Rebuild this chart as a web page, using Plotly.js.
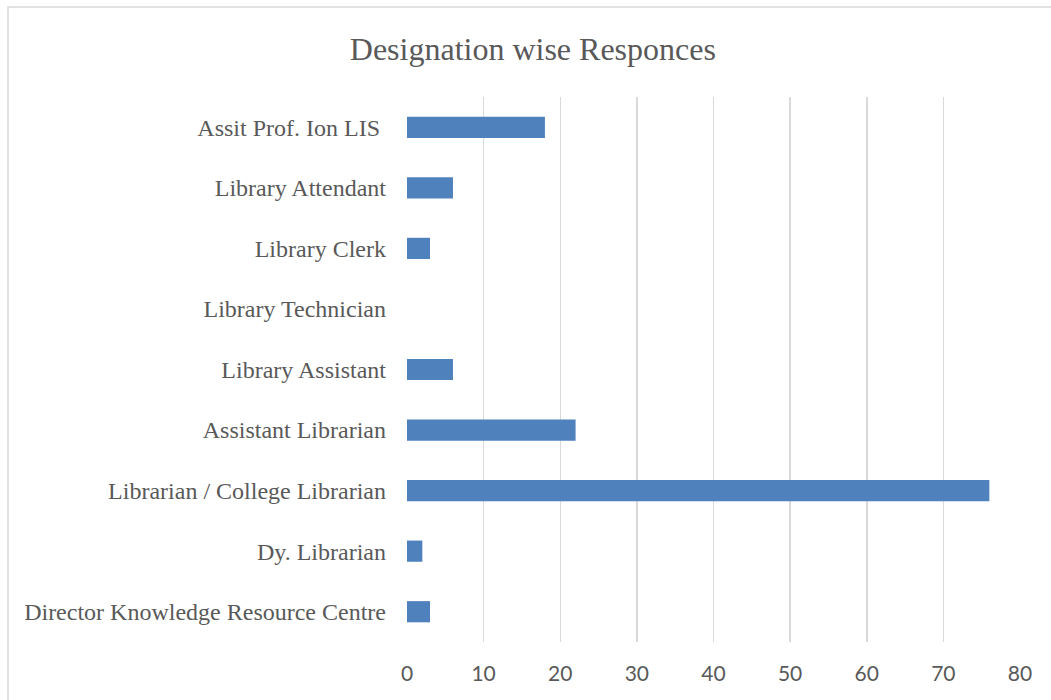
<!DOCTYPE html>
<html>
<head>
<meta charset="utf-8">
<script src="https://cdn.plot.ly/plotly-3.0.1.min.js"></script>
<style>
  html, body { margin: 0; padding: 0; background: #fff; }
  #chart { width: 1051px; height: 700px; }
</style>
</head>
<body>
<div id="chart"></div>
<script>
// Designations, listed bottom to top as drawn on the category axis
const designations = [
  "Director Knowledge Resource Centre",
  "Dy. Librarian",
  "Librarian / College Librarian",
  "Assistant Librarian",
  "Library Assistant",
  "Library Technician",
  "Library Clerk",
  "Library Attendant",
  "Assit Prof. Ion LIS "
];
// Number of responses per designation
const responses = [3, 2, 76, 22, 6, 0, 3, 6, 18];
const xTicks = [0, 10, 20, 30, 40, 50, 60, 70, 80];

const trace = {
  type: "bar",
  orientation: "h",
  y: designations,
  x: responses,
  marker: { color: "#4f81bd", line: { width: 0 } },
  hoverinfo: "x+y"
};

const layout = {
  width: 1051,
  height: 700,
  margin: { l: 407, r: 31, t: 97, b: 58, pad: 0 },
  paper_bgcolor: "#ffffff",
  plot_bgcolor: "#ffffff",
  showlegend: false,
  bargap: 0.65,
  title: {
    text: "Designation wise Responces",
    font: { family: "Liberation Serif, Times New Roman, serif", size: 32, color: "#595959" },
    x: 0.507, xref: "container", xanchor: "center",
    y: 0.93, yref: "container", yanchor: "middle"
  },
  xaxis: {
    range: [0, 80],
    tickvals: xTicks,
    ticktext: xTicks.map(String),
    showgrid: true,
    gridcolor: "#d9d9d9",
    gridwidth: 1.5,
    zeroline: false,
    showline: false,
    ticks: "",
    ticklabelstandoff: 17,
    tickfont: { family: "Lato, Carlito, Calibri, sans-serif", size: 21, color: "#595959" },
    fixedrange: true
  },
  yaxis: {
    type: "category",
    categoryorder: "array",
    categoryarray: designations,
    showgrid: false,
    zeroline: false,
    showline: false,
    ticks: "",
    ticklabelstandoff: 20,
    tickfont: { family: "Liberation Serif, Times New Roman, serif", size: 24, color: "#595959" },
    fixedrange: true
  },
  shapes: [
    {
      type: "rect", xref: "paper", yref: "paper",
      x0: -399 / 613, x1: 1.1, y0: -0.2, y1: 1 + 90 / 545,
      line: { color: "#d9d9d9", width: 1.5 },
      fillcolor: "rgba(0,0,0,0)", layer: "below"
    }
  ]
};

Plotly.newPlot("chart", [trace], layout, { displayModeBar: false, staticPlot: true });
</script>
</body>
</html>
